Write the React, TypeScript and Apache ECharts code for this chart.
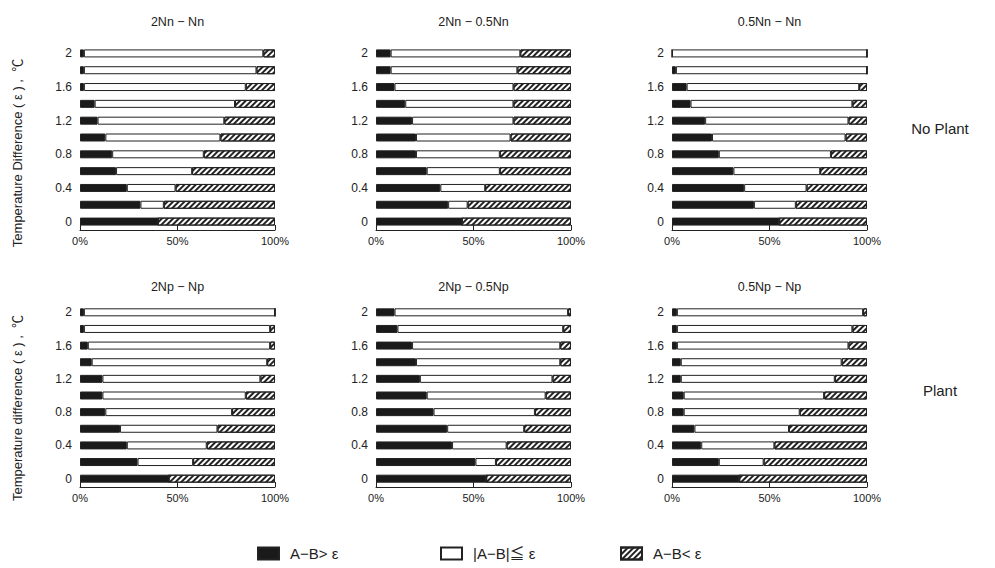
import React, { useEffect, useRef } from 'react';
import * as echarts from 'echarts';

// Categories: temperature difference ε (°C), bottom to top
const CATEGORIES = ['0', '0.2', '0.4', '0.6', '0.8', '1', '1.2', '1.4', '1.6', '1.8', '2'];
const SERIES_NAMES = ['A−B> ε', '|A−B|≦ ε', 'A−B< ε'];
const PANEL_TITLES = ['2Nn − Nn', '2Nn − 0.5Nn', '0.5Nn − Nn', '2Np − Np', '2Np − 0.5Np', '0.5Np − Np'];
const ROW_LABELS = ['No Plant', 'Plant'];
const Y_NAMES = ['Temperature Difference ( ε ) ,  ℃', 'Temperature difference ( ε ) ,  ℃'];
const X_TICKS = [0, 50, 100];

// values in %, order: ε = 0 ... 2
const P1_ABOVE = [40, 31, 24, 18.5, 16.5, 13, 9, 7.5, 2, 2, 2];
const P1_WITHIN = [0, 12, 25, 39, 47, 59, 65, 72, 83, 88.5, 92];
const P1_BELOW = [60, 57, 51, 42.5, 36.5, 28, 26, 20.5, 15, 9.5, 6];

const P2_ABOVE = [44, 37, 33, 26, 20.5, 20.5, 18.5, 15, 9.5, 7.5, 7.5];
const P2_WITHIN = [0, 10, 23, 37.5, 43, 48.5, 52, 55.5, 61, 65, 66.5];
const P2_BELOW = [56, 53, 44, 36.5, 36.5, 31, 29.5, 29.5, 29.5, 27.5, 26];

const P3_ABOVE = [55, 42, 37, 31.5, 24, 20.5, 17, 9.5, 7.5, 2, 0];
const P3_WITHIN = [0, 21.5, 32, 44.5, 57.5, 68.5, 73.5, 83, 88.5, 98, 100];
const P3_BELOW = [45, 36.5, 31, 24, 18.5, 11, 9.5, 7.5, 4, 0, 0];

const P4_ABOVE = [45.5, 29.5, 24, 20.5, 13, 11.5, 11.5, 6, 4, 2, 2];
const P4_WITHIN = [0, 28.5, 41, 50, 65, 73.5, 81, 90, 93.5, 95.5, 98];
const P4_BELOW = [54.5, 42, 35, 29.5, 22, 15, 7.5, 4, 2.5, 2.5, 0];

const P5_ABOVE = [56.5, 51, 39, 36.5, 29.5, 26, 22.5, 20.5, 18.5, 11, 9.5];
const P5_WITHIN = [0, 10.5, 28, 39.5, 52, 61, 68, 74, 76, 85, 89];
const P5_BELOW = [43.5, 38.5, 33, 24, 18.5, 13, 9.5, 5.5, 5.5, 4, 1.5];

const P6_ABOVE = [34.5, 24, 15, 11.5, 6, 6, 4.5, 4.5, 2.5, 2.5, 2.5];
const P6_WITHIN = [0, 23, 37.5, 48.5, 59.5, 72, 79, 82.5, 88, 90, 95.5];
const P6_BELOW = [65.5, 53, 47.5, 40, 34.5, 22, 16.5, 13, 9.5, 7.5, 2];

const PANELS = [
  [P1_ABOVE, P1_WITHIN, P1_BELOW],
  [P2_ABOVE, P2_WITHIN, P2_BELOW],
  [P3_ABOVE, P3_WITHIN, P3_BELOW],
  [P4_ABOVE, P4_WITHIN, P4_BELOW],
  [P5_ABOVE, P5_WITHIN, P5_BELOW],
  [P6_ABOVE, P6_WITHIN, P6_BELOW],
];

const FONT = '"Liberation Sans", "Noto Sans CJK JP", sans-serif';
const INK = '#222';

const COL_LEFT = [80, 376, 672];
const GRID_W = 195;
const ROW_TOP = [45, 304];
const GRID_H = [185, 183];

export default function App() {
  const ref = useRef<HTMLDivElement>(null);

  useEffect(() => {
    if (!ref.current) return;
    const chart = echarts.init(ref.current, undefined, { renderer: 'svg' });

    const hatch = {
      color: INK,
      backgroundColor: '#fff',
      symbol: 'rect',
      symbolSize: 1,
      dashArrayX: [1, 0],
      dashArrayY: [2, 2],
      rotation: -Math.PI / 4,
    };

    const styles = [
      { color: '#1a1a1a', borderColor: INK, borderWidth: 1 },
      { color: '#fff', borderColor: INK, borderWidth: 1 },
      { color: '#fff', borderColor: INK, borderWidth: 1, decal: hatch },
    ];

    const grids: any[] = [];
    const xAxes: any[] = [];
    const yAxes: any[] = [];
    const series: any[] = [];
    const graphics: any[] = [];

    PANELS.forEach((panel, i) => {
      const row = Math.floor(i / 3);
      const col = i % 3;
      grids.push({ left: COL_LEFT[col], top: ROW_TOP[row], width: GRID_W, height: GRID_H[row] });
      xAxes.push({
        gridIndex: i,
        type: 'value',
        min: X_TICKS[0],
        max: X_TICKS[X_TICKS.length - 1],
        interval: X_TICKS[1] - X_TICKS[0],
        splitLine: { show: false },
        axisLine: { show: true, lineStyle: { color: INK, width: 1 } },
        axisTick: { show: true, inside: true, length: 5, lineStyle: { color: INK } },
        axisLabel: { formatter: '{value}%', fontSize: 11, color: INK, fontFamily: FONT, margin: 5 },
      });
      yAxes.push({
        gridIndex: i,
        type: 'category',
        data: CATEGORIES,
        axisLine: { show: false },
        axisTick: { show: false },
        axisLabel: { interval: 1, fontSize: 12, color: INK, fontFamily: FONT, margin: 8 },
      });
      panel.forEach((vals, s) => {
        series.push({
          name: SERIES_NAMES[s],
          type: 'bar',
          xAxisIndex: i,
          yAxisIndex: i,
          stack: 'p' + i,
          barWidth: 8,
          data: vals,
          itemStyle: styles[s],
          emphasis: { disabled: true },
        });
      });
      graphics.push({
        type: 'text',
        x: COL_LEFT[col] + GRID_W / 2,
        y: row === 0 ? 22 : 287,
        style: { text: PANEL_TITLES[i], align: 'center', verticalAlign: 'middle', fontSize: 12.5, fontFamily: FONT, fill: INK },
      });
    });

    ROW_LABELS.forEach((t, r) => {
      graphics.push({
        type: 'text',
        x: 940,
        y: r === 0 ? 128 : 390,
        style: { text: t, align: 'center', verticalAlign: 'middle', fontSize: 15, fontFamily: FONT, fill: INK },
      });
    });
    Y_NAMES.forEach((t, r) => {
      graphics.push({
        type: 'text',
        x: 17,
        y: r === 0 ? 153 : 408,
        rotation: Math.PI / 2,
        style: { text: t, align: 'center', verticalAlign: 'middle', fontSize: 13, fontFamily: FONT, fill: INK },
      });
    });

    const legendLefts = [257, 440, 620];
    const legends = SERIES_NAMES.map((n, k) => ({
      data: [n],
      left: legendLefts[k],
      top: 546,
      padding: 0,
      icon: 'rect',
      itemWidth: 21,
      itemHeight: 12,
      itemGap: 10,
      selectedMode: false,
      textStyle: { fontSize: 15, color: INK, fontFamily: FONT, padding: [0, 0, 0, 6] },
    }));

    chart.setOption({
      animation: false,
      backgroundColor: '#fff',
      grid: grids,
      xAxis: xAxes,
      yAxis: yAxes,
      series,
      legend: legends,
      graphic: graphics,
    });

    return () => chart.dispose();
  }, []);

  return <div ref={ref} style={{ position: 'fixed', left: 0, top: 0, width: 995, height: 568 }} />;
}
